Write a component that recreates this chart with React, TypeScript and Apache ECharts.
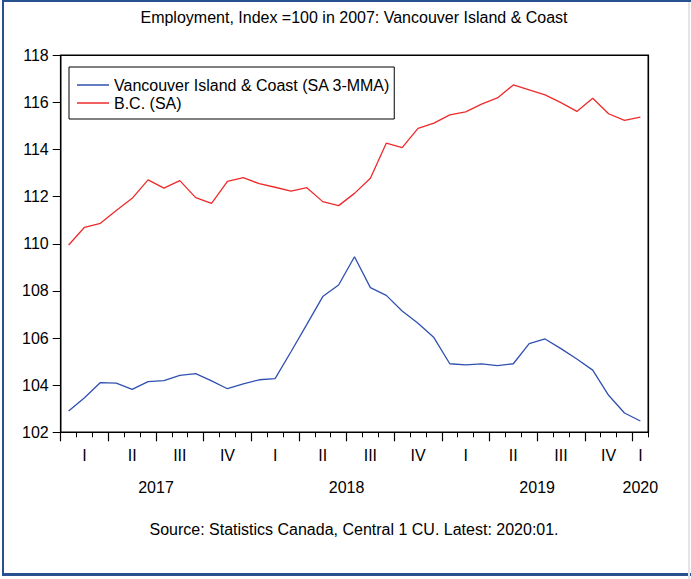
import React, { useEffect, useRef } from "react";
import * as echarts from "echarts";

const months = [
  "2017-01", "2017-02", "2017-03", "2017-04", "2017-05", "2017-06",
  "2017-07", "2017-08", "2017-09", "2017-10", "2017-11", "2017-12",
  "2018-01", "2018-02", "2018-03", "2018-04", "2018-05", "2018-06",
  "2018-07", "2018-08", "2018-09", "2018-10", "2018-11", "2018-12",
  "2019-01", "2019-02", "2019-03", "2019-04", "2019-05", "2019-06",
  "2019-07", "2019-08", "2019-09", "2019-10", "2019-11", "2019-12",
  "2020-01",
];

const vancouverIsland = [
  102.90, 103.47, 104.11, 104.09, 103.82, 104.15, 104.19, 104.42, 104.49, 104.18,
  103.85, 104.06, 104.23, 104.28, 105.42, 106.58, 107.76, 108.25, 109.45, 108.14,
  107.81, 107.15, 106.63, 106.02, 104.91, 104.86, 104.90, 104.83, 104.91, 105.76,
  105.96, 105.55, 105.11, 104.64, 103.57, 102.82, 102.48,
];

const bc = [
  109.95, 110.70, 110.87, 111.41, 111.93, 112.71, 112.36, 112.68, 111.96, 111.72,
  112.65, 112.81, 112.55, 112.40, 112.24, 112.38, 111.79, 111.62, 112.14, 112.78,
  114.27, 114.08, 114.90, 115.12, 115.47, 115.60, 115.93, 116.19, 116.74, 116.53,
  116.32, 115.99, 115.62, 116.18, 115.52, 115.24, 115.38,
];

const seriesNames = ["Vancouver Island & Coast (SA 3-MMA)", "B.C. (SA)"];
const quarterNames = ["I", "II", "III", "IV"];
const titleText = "Employment, Index =100 in 2007: Vancouver Island & Coast";
const sourceText = "Source: Statistics Canada, Central 1 CU. Latest: 2020:01.";

const FONT = "'Liberation Sans', Arial, Helvetica, sans-serif";

function groupCenters(keyOf: (m: string) => string) {
  const groups: { key: string; first: number; last: number }[] = [];
  months.forEach((m, i) => {
    const k = keyOf(m);
    const g = groups[groups.length - 1];
    if (g && g.key === k) g.last = i;
    else groups.push({ key: k, first: i, last: i });
  });
  return groups.map((g) => ({ key: g.key, center: (g.first + g.last + 1) / 2, start: g.first }));
}

export default function App() {
  const ref = useRef<HTMLDivElement>(null);

  useEffect(() => {
    if (!ref.current) return;
    const chart = echarts.init(ref.current, undefined, { renderer: "svg" });

    const quarters = groupCenters((m) => {
      const [y, mo] = m.split("-").map(Number);
      return `${y}-Q${Math.floor((mo - 1) / 3)}`;
    });
    const years = groupCenters((m) => m.split("-")[0]);

    const quarterLabelMap = new Map<number, string>();
    quarters.forEach((q) => {
      const qi = Number(q.key.split("-Q")[1]);
      quarterLabelMap.set(q.center, quarterNames[qi]);
    });
    const yearLabelMap = new Map<number, string>();
    years.forEach((y) => yearLabelMap.set(y.center, y.key));

    const n = months.length;
    const monthTicks = Array.from({ length: n + 1 }, (_, i) => i);
    const quarterTicks = quarters.map((q) => q.start);

    const labelStyle = { fontFamily: FONT, fontSize: 16, color: "#000", lineHeight: 16 };

    chart.setOption({
      animation: false,
      backgroundColor: "transparent",
      grid: {
        left: 60.7,
        top: 55.3,
        right: 42.7,
        bottom: 146.7,
        show: true,
        borderColor: "#000",
        borderWidth: 1.6,
        containLabel: false,
      },
      legend: {
        left: 69,
        top: 67,
        orient: "vertical",
        backgroundColor: "#fff",
        borderColor: "#000",
        borderWidth: 1,
        borderRadius: 0,
        padding: [10, 4, 8, 8],
        itemGap: 2,
        itemWidth: 32,
        itemHeight: 1.5,
        icon: "rect",
        textStyle: { fontFamily: FONT, fontSize: 16, color: "#000", lineHeight: 16 },
        data: seriesNames,
      },
      xAxis: [
        {
          type: "value",
          position: "bottom",
          min: 0,
          max: n,
          splitLine: { show: false },
          axisLine: { show: false },
          axisTick: {
            show: true,
            inside: false,
            length: 5,
            lineStyle: { color: "#000", width: 1 },
            customValues: monthTicks,
          },
          axisLabel: {
            ...labelStyle,
            margin: 15,
            showMinLabel: true,
            showMaxLabel: true,
            customValues: Array.from(quarterLabelMap.keys()),
            formatter: (v: number) => quarterLabelMap.get(v) ?? "",
          },
        },
        {
          type: "value",
          position: "bottom",
          min: 0,
          max: n,
          splitLine: { show: false },
          axisLine: { show: false },
          axisTick: {
            show: true,
            inside: false,
            length: 9,
            lineStyle: { color: "#000", width: 1.2 },
            customValues: quarterTicks,
          },
          axisLabel: {
            ...labelStyle,
            margin: 47,
            showMinLabel: true,
            showMaxLabel: true,
            customValues: Array.from(yearLabelMap.keys()),
            formatter: (v: number) => yearLabelMap.get(v) ?? "",
          },
        },
      ],
      yAxis: {
        type: "value",
        min: 102,
        max: 118,
        interval: 2,
        splitLine: { show: false },
        axisLine: { show: false },
        axisTick: { show: true, inside: false, length: 8, lineStyle: { color: "#000", width: 1 } },
        axisLabel: { ...labelStyle, margin: 12 },
      },
      graphic: [
        {
          type: "text",
          x: 354,
          y: 17,
          style: {
            text: titleText,
            fontFamily: FONT,
            fontSize: 16,
            fill: "#000",
            textAlign: "center",
            textVerticalAlign: "middle",
          },
        },
        {
          type: "text",
          x: 354,
          y: 529,
          style: {
            text: sourceText,
            fontFamily: FONT,
            fontSize: 16,
            fill: "#000",
            textAlign: "center",
            textVerticalAlign: "middle",
          },
        },
      ],
      series: [
        {
          name: seriesNames[0],
          type: "line",
          xAxisIndex: 0,
          symbol: "none",
          lineStyle: { color: "#3050b0", width: 1.3 },
          itemStyle: { color: "#3050b0" },
          data: vancouverIsland.map((v, i) => [i + 0.5, v]),
        },
        {
          name: seriesNames[1],
          type: "line",
          xAxisIndex: 0,
          symbol: "none",
          lineStyle: { color: "#ee2a2a", width: 1.3 },
          itemStyle: { color: "#ee2a2a" },
          data: bc.map((v, i) => [i + 0.5, v]),
        },
      ],
    });

    return () => chart.dispose();
  }, []);

  return (
    <div style={{ position: "fixed", left: 0, top: 0, width: 691, height: 579, background: "#fff", overflow: "hidden" }}>
      <div
        style={{
          position: "absolute",
          left: 2,
          top: 0,
          width: 689,
          height: 575.5,
          boxSizing: "border-box",
          borderTop: "2px solid #27528f",
          borderLeft: "2.5px solid #27528f",
          borderBottom: "3px solid #27528f",
        }}
      />
      <div style={{ position: "absolute", left: 688, top: 2, width: 2, height: 577, background: "#e4e4e4" }} />
      <div ref={ref} style={{ position: "absolute", left: 0, top: 0, width: 691, height: 579 }} />
    </div>
  );
}
